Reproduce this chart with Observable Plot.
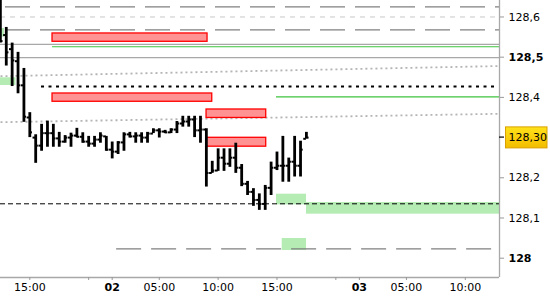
<!DOCTYPE html>
<html><head><meta charset="utf-8">
<script src="https://cdn.jsdelivr.net/npm/d3@7"></script>
<script src="https://cdn.jsdelivr.net/npm/@observablehq/plot@0.6"></script>
<style>body{margin:0;background:#fff;} #chart svg{display:block;}</style>
</head><body><div id="chart"></div>
<script>
// 30-minute bar slots (0 = 15:00 of day 1)
const barSlot  = [-5,-4,-3,-2,-1,0,1,2,3,4,5,6,7,8,9,10,11,12,13,14,15,16,17,18,19,20,21,22,23,24,25,26,27,28,29,30,31,32,33,34,35,36,37,38,39,40,41,42,43,44,45,46,47];
const barOpen  = [128.600,128.555,128.520,128.490,128.430,128.350,128.300,128.280,128.311,128.311,128.298,128.290,128.300,128.305,128.302,128.290,128.285,128.295,128.303,128.270,128.265,128.288,128.308,128.303,128.305,128.300,128.310,128.318,128.315,128.313,128.320,128.335,128.340,128.345,128.318,128.320,128.212,128.218,128.250,128.235,128.250,128.225,128.185,128.165,128.145,128.135,128.175,128.225,128.230,128.230,128.240,128.230,128.297];
const barHigh  = [128.645,128.574,128.535,128.512,128.472,128.362,128.307,128.333,128.341,128.333,128.313,128.305,128.311,128.323,128.312,128.303,128.303,128.312,128.303,128.289,128.290,128.312,128.313,128.312,128.312,128.313,128.322,128.322,128.318,128.322,128.340,128.353,128.353,128.353,128.353,128.322,128.241,128.272,128.272,128.272,128.286,128.233,128.191,128.173,128.160,128.181,128.239,128.264,128.303,128.249,128.303,128.291,128.313];
const barLow   = [128.535,128.478,128.427,128.409,128.338,128.300,128.236,128.266,128.276,128.276,128.276,128.286,128.276,128.300,128.286,128.276,128.276,128.286,128.266,128.247,128.258,128.266,128.299,128.286,128.286,128.286,128.310,128.299,128.310,128.310,128.310,128.326,128.326,128.300,128.286,128.177,128.211,128.216,128.216,128.226,128.211,128.178,128.156,128.129,128.119,128.119,128.156,128.218,128.189,128.189,128.202,128.202,128.297];
const barClose = [128.540,128.512,128.492,128.430,128.352,128.313,128.280,128.311,128.311,128.298,128.290,128.300,128.305,128.302,128.290,128.285,128.295,128.305,128.270,128.265,128.288,128.308,128.303,128.305,128.300,128.310,128.318,128.315,128.313,128.320,128.335,128.340,128.345,128.318,128.320,128.212,128.218,128.250,128.235,128.250,128.225,128.185,128.165,128.145,128.135,128.175,128.225,128.230,128.230,128.240,128.230,128.270,128.300];

const xTickSlots  = [0, 10, 14, 22, 32, 42, 52, 56, 64, 74];
const xTickLabels = ["15:00", "", "02", "05:00", "10:00", "15:00", "", "03", "05:00", "10:00"];
const xBoldTicks  = ["02", "03"];

const yTickValues = [128.6, 128.5, 128.4, 128.2, 128.1, 128.0];
const yTickLabels = ["128,6", "128,5", "128,4", "128,2", "128,1", "128"];
const yBoldTicks  = ["128,5", "128"];

const lastPrice = 128.30;
const lastPriceLabel = "128,30";

// horizontal levels
const longDashPrice = [128.625, 128.568, 128.0234];
const longDashFrom  = [-4.98, -4.98, 13.9];
const longDashTo    = [79.81, 79.81, 79.81];
const gridDashPrice = [128.600];
const solidGrayPrice = [128.532, 128.499];
const greenLinePrice = [128.526, 128.4015];
const greenLineFrom  = [3.86, 41.92];
const greenLineTo    = [79.81, 79.81];
const blackDotPrice = [128.427];
const blackDotFrom  = [1.99];
const blackDotTo    = [78.96];
const blackDashPrice = [128.1353];

// trend lines
const trendX1 = [-4.98, -4.98];
const trendY1 = [128.4527, 128.3383];
const trendX2 = [79.81, 79.81];
const trendY2 = [128.4780, 128.3592];

// zones
const redX1 = [3.86, 3.86, 30.03, 30.03];
const redX2 = [30.2, 31.0, 40.17, 40.17];
const redY1 = [128.5383, 128.3891, 128.3488, 128.2774];
const redY2 = [128.5590, 128.4097, 128.3699, 128.2995];
const greenX1 = [-4.98, -4.98, 41.92, 47.02, 42.89];
const greenX2 = [-4.30, -2.35, 47.02, 79.81, 47.02];
const greenY1 = [128.5498, 128.4296, 128.1328, 128.1095, 128.0192];
const greenY2 = [128.5714, 128.4488, 128.1592, 128.1386, 128.0490];

const bars = barSlot.map((s, i) => ({s, o: barOpen[i], h: barHigh[i], l: barLow[i], c: barClose[i]}));
const longDash = longDashPrice.map((p, i) => ({p, a: longDashFrom[i], b: longDashTo[i]}));
const greenLines = greenLinePrice.map((p, i) => ({p, a: greenLineFrom[i], b: greenLineTo[i]}));
const blackDot = blackDotPrice.map((p, i) => ({p, a: blackDotFrom[i], b: blackDotTo[i]}));
const trends = trendX1.map((x1, i) => ({x1, y1: trendY1[i], x2: trendX2[i], y2: trendY2[i]}));
const redZones = redX1.map((x1, i) => ({x1, x2: redX2[i], y1: redY1[i], y2: redY2[i]}));
const greenZones = greenX1.map((x1, i) => ({x1, x2: greenX2[i], y1: greenY1[i], y2: greenY2[i]}));

const xDomain = [-4.98, 79.81];
const yDomain = [127.952, 128.641];

const xLabelMap = new Map(xTickSlots.map((v, i) => [v, xTickLabels[i]]));
const xNormal = xTickSlots.filter((v, i) => !xBoldTicks.includes(xTickLabels[i]));
const xBold = xTickSlots.filter((v, i) => xBoldTicks.includes(xTickLabels[i]));
const yLabelMap = new Map(yTickValues.map((v, i) => [v, yTickLabels[i]]));
const yNormal = yTickValues.filter((v, i) => !yBoldTicks.includes(yTickLabels[i]));
const yBold = yTickValues.filter((v, i) => yBoldTicks.includes(yTickLabels[i]));

const priceTag = (index, scales, values, dims) => {
  const y = scales.y(lastPrice);
  const x0 = dims.width - dims.marginRight;
  const g = d3.create("svg:g");
  const grad = g.append("defs").append("linearGradient").attr("id", "pg")
    .attr("x1", 0).attr("y1", 0).attr("x2", 0).attr("y2", 1);
  grad.append("stop").attr("offset", "0%").attr("stop-color", "#ffe21a");
  grad.append("stop").attr("offset", "100%").attr("stop-color", "#f2bc00");
  g.append("line").attr("x1", x0).attr("x2", x0 + 5).attr("y1", y).attr("y2", y)
    .attr("stroke", "#000").attr("stroke-width", 1.2);
  g.append("rect").attr("x", x0 + 6.5).attr("y", y - 10.2).attr("width", 41.5).attr("height", 21)
    .attr("fill", "url(#pg)").attr("stroke", "#d9a000");
  g.append("text").attr("x", x0 + 9.5).attr("y", y + 0.5).attr("dy", "0.35em")
    .attr("text-anchor", "start")
    .attr("fill", "#000").attr("font-size", 11).text(lastPriceLabel);
  return g.node();
};

const chart = Plot.plot({
  width: 550, height: 300,
  marginLeft: 0, marginRight: 51, marginTop: 0, marginBottom: 23,
  style: {fontFamily: "DejaVu Sans", fontSize: "11px", background: "#fff", color: "#000"},
  x: {type: "linear", domain: xDomain},
  y: {domain: yDomain},
  marks: [
    Plot.rect(greenZones, {x1: "x1", x2: "x2", y1: "y1", y2: "y2", fill: "#b4ecb4"}),
    Plot.ruleY(gridDashPrice, {stroke: "#c8c8c8", strokeDasharray: "5,5"}),
    Plot.ruleY(longDash, {y: "p", x1: "a", x2: "b", stroke: "#808080", strokeWidth: 1.2, strokeDasharray: "25,10", strokeDashoffset: 30}),
    Plot.ruleY(solidGrayPrice, {stroke: "#a8a8a8", strokeWidth: 1.2}),
    Plot.ruleY(greenLines, {y: "p", x1: "a", x2: "b", stroke: "#3ec43e", strokeWidth: 1.2}),
    Plot.link(trends, {x1: "x1", y1: "y1", x2: "x2", y2: "y2", stroke: "#b4b4b4", strokeWidth: 1.8, strokeDasharray: "2,3"}),
    Plot.ruleY(blackDot, {y: "p", x1: "a", x2: "b", stroke: "#000", strokeWidth: 2, strokeDasharray: "3,4.5"}),
    Plot.ruleY(blackDashPrice, {stroke: "#000", strokeDasharray: "5,3"}),
    Plot.rect(redZones, {x1: "x1", x2: "x2", y1: "y1", y2: "y2", fill: "#ff9292", stroke: "#ff0000", strokeWidth: 1.3}),
    Plot.ruleX(bars, {x: "s", y1: "l", y2: "h", stroke: "#000", strokeWidth: 2.8}),
    Plot.ruleY(bars, {y: "o", x1: d => d.s - 0.45, x2: "s", stroke: "#000", strokeWidth: 2}),
    Plot.ruleY(bars, {y: "c", x1: "s", x2: d => d.s + 0.45, stroke: "#000", strokeWidth: 2}),
    Plot.ruleY([yDomain[0]], {stroke: "#a8a8a8", strokeWidth: 1.3}),
    Plot.ruleX([xDomain[1]], {stroke: "#a8a8a8", strokeWidth: 1.3}),
    Plot.axisX({ticks: xNormal, tickFormat: d => xLabelMap.get(d), tickSize: 3, tickPadding: 3, stroke: "#999", fill: "#000"}),
    Plot.axisX({ticks: xBold, tickFormat: d => xLabelMap.get(d), tickSize: 3, tickPadding: 3, stroke: "#999", fill: "#000", fontWeight: "bold"}),
    Plot.axisY({anchor: "right", ticks: yNormal, tickFormat: d => yLabelMap.get(d), tickSize: 4, tickPadding: 5, stroke: "#999", fill: "#000"}),
    Plot.axisY({anchor: "right", ticks: yBold, tickFormat: d => yLabelMap.get(d), tickSize: 4, tickPadding: 5, stroke: "#999", fill: "#000", fontWeight: "bold"}),
    priceTag
  ]
});
document.getElementById("chart").appendChild(chart);
</script>
</body></html>
